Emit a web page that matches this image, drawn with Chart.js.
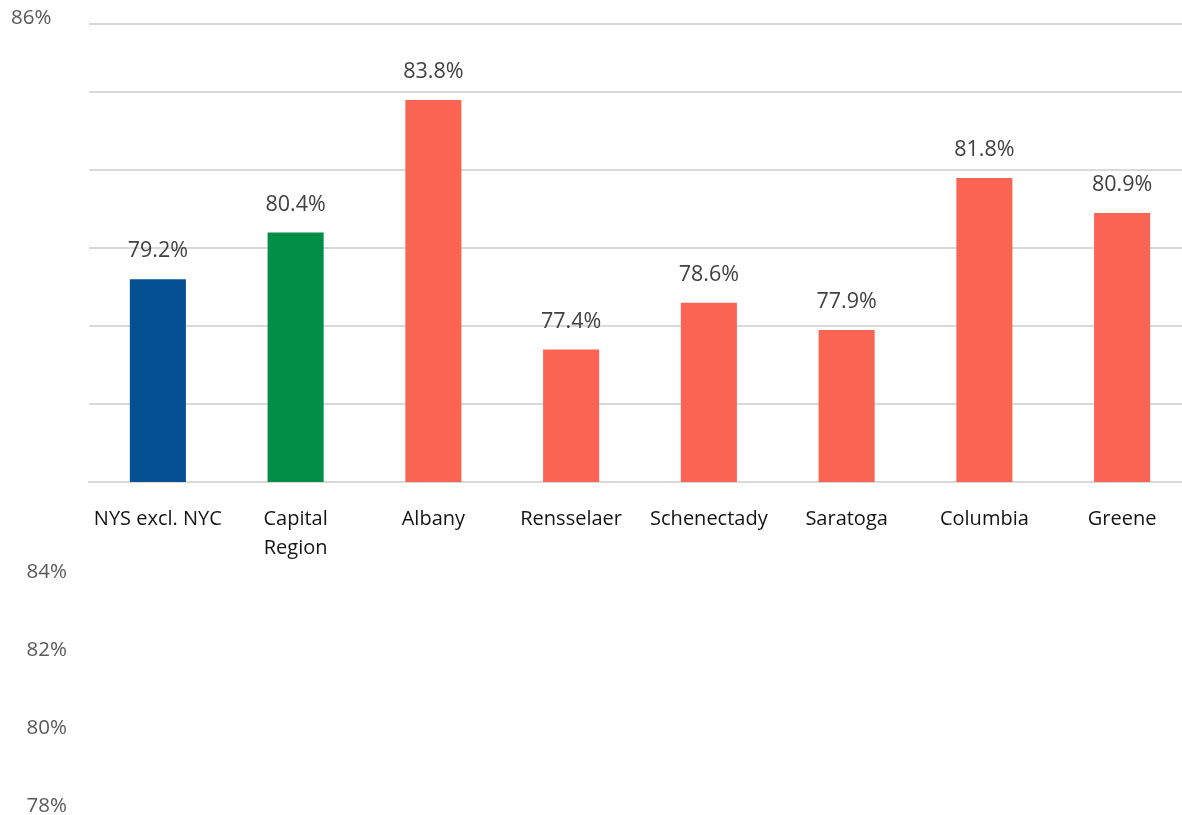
<!DOCTYPE html>
<html>
<head>
<meta charset="utf-8">
<script src="https://cdn.jsdelivr.net/npm/chart.js@4.4.0/dist/chart.umd.min.js"></script>
<style>
    html, body { margin: 0; padding: 0; background: #fff; overflow: hidden; }
    #wrap { width: 1192px; height: 815px; position: relative; }
</style>
</head>
<body>
<div id="wrap"><canvas id="rate_chart"></canvas></div>
<script>
var categories = ['NYS excl. NYC', ['Capital', 'Region'], 'Albany', 'Rensselaer', 'Schenectady', 'Saratoga', 'Columbia', 'Greene'];
var rates = [79.2, 80.4, 83.8, 77.4, 78.6, 77.9, 81.8, 80.9];
var barColors = ['#045092', '#038E48', '#F96453', '#F96453', '#F96453', '#F96453', '#F96453', '#F96453'];
var yTicks = [74, 76, 78, 80, 82, 84, 85.75];
var yTickLabels = ['74%', '76%', '78%', '80%', '82%', '84%', '86%'];

// percent labels above each bar
var valueLabels = {
    id: 'valueLabels',
    afterDatasetsDraw: function (chart) {
        var ctx = chart.ctx;
        var meta = chart.getDatasetMeta(0);
        ctx.save();
        ctx.font = '21.5px "Open Sans"';
        ctx.fillStyle = '#404040';
        ctx.textAlign = 'center';
        ctx.textBaseline = 'middle';
        meta.data.forEach(function (bar, i) {
            ctx.fillText(rates[i].toFixed(1) + '%', bar.x, bar.y - 28);
        });
        ctx.restore();
    }
};

// y labels: the top one sits beside the plot, the rest got pushed down below the axis
var yLabels = {
    id: 'yLabels',
    afterDraw: function (chart) {
        var ctx = chart.ctx;
        var y = chart.scales.y;
        ctx.save();
        ctx.font = '20.5px "Open Sans"';
        ctx.fillStyle = '#595959';
        ctx.textBaseline = 'middle';
        yTicks.forEach(function (v, i) {
            if (i === yTicks.length - 1) {
                ctx.textAlign = 'left';
                ctx.fillText(yTickLabels[i], 11, y.getPixelForValue(v) - 6);
            } else {
                ctx.textAlign = 'right';
                ctx.fillText(yTickLabels[i], 67, y.getPixelForValue(v) + 480);
            }
        });
        ctx.restore();
    }
};

var rate_chart = new Chart(document.getElementById('rate_chart'), {
    type: 'bar',
    data: {
        labels: categories,
        datasets: [{
            data: rates,
            backgroundColor: barColors,
            borderWidth: 0,
            barPercentage: 0.407,
            categoryPercentage: 1
        }]
    },
    options: {
        responsive: true,
        maintainAspectRatio: false,
        animation: false,
        layout: {
            padding: { top: 24, right: 1, left: 0, bottom: 0 }
        },
        plugins: {
            legend: { display: false },
            tooltip: { enabled: false }
        },
        scales: {
            x: {
                grid: { display: false, drawTicks: false },
                border: { display: true, color: '#D9D9D9', width: 2 },
                ticks: {
                    color: '#141414',
                    padding: 23,
                    maxRotation: 0,
                    autoSkip: false,
                    font: { family: 'Open Sans', size: 20, lineHeight: 1.45 }
                },
                afterFit: function (scale) { scale.height = 815 - 482; }
            },
            y: {
                min: 74,
                max: 85.75,
                afterBuildTicks: function (scale) {
                    scale.ticks = yTicks.map(function (v) { return { value: v }; });
                },
                grid: { color: '#D9D9D9', lineWidth: 2, drawTicks: false },
                border: { display: false },
                ticks: { display: false },
                afterFit: function (scale) { scale.width = 89; }
            }
        }
    },
    plugins: [valueLabels, yLabels]
});
</script>
</body>
</html>
